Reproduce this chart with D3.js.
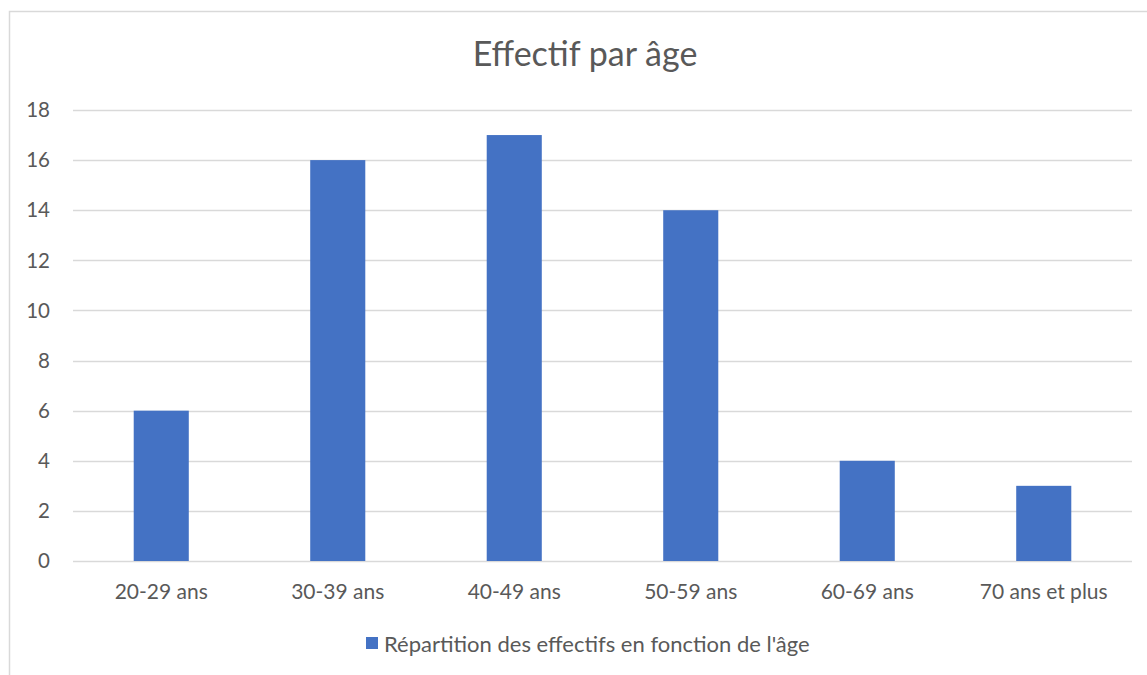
<!DOCTYPE html>
<html><head><meta charset="utf-8">
<script src="https://cdn.jsdelivr.net/npm/d3@7"></script>
<style>body{margin:0;background:#fff;} text{font-family:Lato, "Open Sans", sans-serif;fill:#595959;}</style>
</head><body>
<svg id="c" width="1147" height="675"></svg>
<script>
const categories = ["20-29 ans","30-39 ans","40-49 ans","50-59 ans","60-69 ans","70 ans et plus"];
const values = [6,16,17,14,4,3];
const yTicks = [0,2,4,6,8,10,12,14,16,18];
const title = "Effectif par âge";
const seriesName = "Répartition des effectifs en fonction de l'âge";

const svg = d3.select("#c");
svg.append("rect").attr("x",9.5).attr("y",11.5).attr("width",1160).attr("height",700)
  .attr("fill","#fff").attr("stroke","#d9d9d9").attr("stroke-width",1.5);

const x = d3.scaleBand().domain(categories).range([73,1132]).paddingInner(0.688).paddingOuter(0.344);
const y = d3.scaleLinear().domain([0,18]).range([561,110]);

svg.append("g").selectAll("line").data(yTicks).join("line")
  .attr("x1",73).attr("x2",1132).attr("y1",d=>Math.round(y(d))+0.5).attr("y2",d=>Math.round(y(d))+0.5)
  .attr("stroke","#d9d9d9").attr("stroke-width",1.3);

svg.append("g").selectAll("text").data(yTicks).join("text")
  .attr("x",50).attr("y",d=>y(d)).attr("dy","0.35em").attr("text-anchor","end")
  .attr("font-size",20.5).text(d=>d);

svg.append("g").selectAll("rect").data(values).join("rect")
  .attr("x",(d,i)=>x(categories[i])).attr("width",x.bandwidth())
  .attr("y",d=>y(d)).attr("height",d=>y(0)-y(d)).attr("fill","#4472c4");

svg.append("g").selectAll("text").data(categories).join("text")
  .attr("x",d=>x(d)+x.bandwidth()/2).attr("y",599).attr("text-anchor","middle")
  .attr("font-size",21).text(d=>d);

svg.append("text").attr("x",585).attr("y",66).attr("text-anchor","middle")
  .attr("font-size",34).text(title);

const lg = svg.append("g");
lg.append("rect").attr("x",366).attr("y",637).attr("width",12).attr("height",12).attr("fill","#4472c4");
lg.append("text").attr("x",384).attr("y",652).attr("font-size",22).text(seriesName);
</script>
</body></html>
